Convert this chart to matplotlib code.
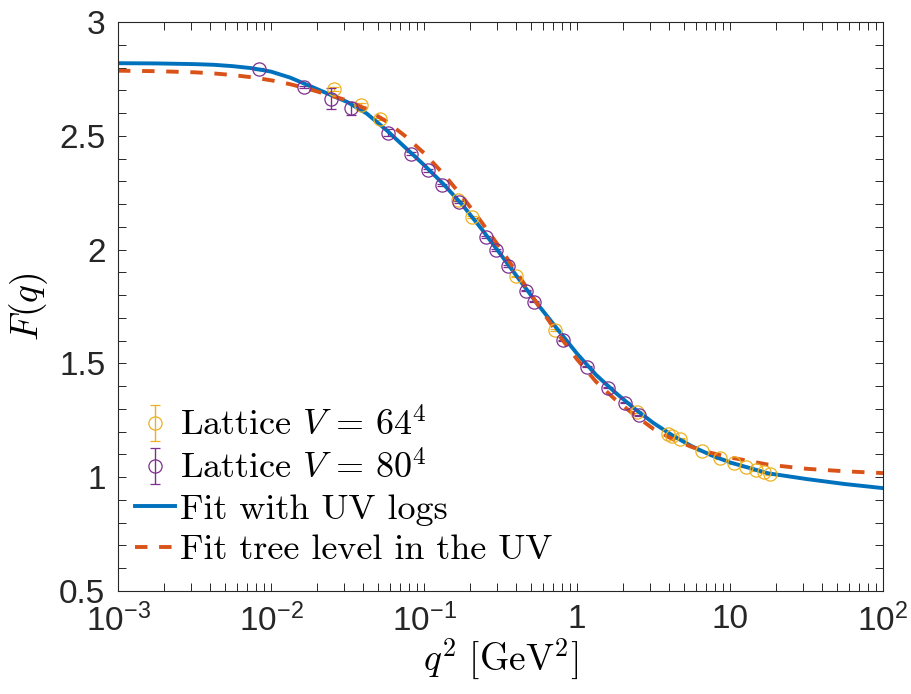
import matplotlib
matplotlib.use("Agg")
import matplotlib.pyplot as plt
from matplotlib.font_manager import FontProperties
from matplotlib.ticker import FixedLocator, FixedFormatter, LogLocator, MultipleLocator, NullFormatter

# ---------------- data ----------------
# Lattice V = 64^4
q2_64 = [0.0258, 0.039, 0.0515, 0.166, 0.2056, 0.398, 0.723, 2.45,
         3.91, 4.2, 4.7, 6.61, 8.63, 10.6, 12.8, 14.9, 16.7, 18.2]
F_64 = [2.705, 2.636, 2.573, 2.216, 2.143, 1.883, 1.646, 1.286,
        1.188, 1.182, 1.170, 1.115, 1.083, 1.061, 1.045, 1.031, 1.021, 1.013]
err_64 = [0.010, 0.006, 0.004, 0.003, 0.003, 0.003, 0.003, 0.003,
          0.003, 0.003, 0.003, 0.002, 0.002, 0.002, 0.002, 0.002, 0.002, 0.002]

# Lattice V = 80^4
q2_80 = [0.0083, 0.0164, 0.0248, 0.0332, 0.058, 0.0826, 0.107, 0.1316,
         0.1706, 0.255, 0.2966, 0.353, 0.466, 0.525, 0.815, 1.164,
         1.585, 2.05, 2.55]
F_80 = [2.794, 2.715, 2.662, 2.621, 2.514, 2.421, 2.348, 2.285,
        2.210, 2.056, 2.000, 1.927, 1.820, 1.771, 1.602, 1.485,
        1.393, 1.328, 1.272]
err_80 = [0.004, 0.003, 0.046, 0.029, 0.015, 0.006, 0.005, 0.005,
          0.004, 0.004, 0.004, 0.004, 0.003, 0.003, 0.003, 0.003,
          0.003, 0.003, 0.003]

# Fit curves
q2_fit = [0.001, 0.00178, 0.00316, 0.00422, 0.00562, 0.0075, 0.01, 0.0133,
          0.0178, 0.0316, 0.0422, 0.0562, 0.075, 0.1, 0.133, 0.178, 0.237,
          0.316, 0.422, 0.562, 0.75, 1.0, 1.33, 1.78, 2.37, 3.16, 4.22,
          5.62, 7.5, 10.0, 17.8, 31.6, 56.2, 100.0]
F_uvlogs = [2.819, 2.818, 2.815, 2.812, 2.806, 2.797, 2.782, 2.756,
            2.720, 2.648, 2.598, 2.528, 2.450, 2.372, 2.290, 2.197, 2.092,
            1.980, 1.866, 1.754, 1.648, 1.543, 1.450, 1.372, 1.302, 1.238,
            1.183, 1.136, 1.097, 1.065, 1.017, 0.992, 0.970, 0.952]
F_tree = [2.786, 2.784, 2.779, 2.774, 2.767, 2.757, 2.744, 2.727,
          2.705, 2.655, 2.616, 2.565, 2.500, 2.424, 2.335, 2.233, 2.122,
          2.005, 1.880, 1.752, 1.630, 1.518, 1.420, 1.341, 1.274, 1.212,
          1.167, 1.133, 1.107, 1.087, 1.055, 1.037, 1.026, 1.018]

labels = [r"Lattice $V\,=\,64^4$", r"Lattice $V\,=\,80^4$",
          "Fit with UV logs", "Fit tree level in the UV"]
xtick_vals = [1e-3, 1e-2, 1e-1, 1, 10, 100]
xtick_labels = [r"$10^{-3}$", r"$10^{-2}$", r"$10^{-1}$", "1", "10", r"$10^{2}$"]
ytick_vals = [0.5, 1, 1.5, 2, 2.5, 3]
ytick_labels = ["0.5", "1", "1.5", "2", "2.5", "3"]

# ---------------- style ----------------
plt.rcParams["mathtext.fontset"] = "custom"
plt.rcParams["mathtext.rm"] = "Liberation Sans"
plt.rcParams["mathtext.it"] = "Liberation Sans:italic"
plt.rcParams["mathtext.bf"] = "Liberation Sans:bold"
plt.rcParams["font.family"] = ["Liberation Sans", "DejaVu Sans"]

c_blue = "#0072BD"
c_orange = "#D95319"
c_yellow = "#EDB120"
c_purple = "#7E2F8E"
axc = "#262626"

fig = plt.figure(figsize=(9.12, 6.94), dpi=100)
ax = fig.add_axes([118 / 912, 1 - 591 / 694, 765 / 912, 569 / 694])

eb_kw = dict(fmt="o", mfc="none", ms=9.5, mew=0.9, elinewidth=1.0,
             capsize=3.3, capthick=1.0)
h64 = ax.errorbar(q2_64, F_64, yerr=err_64, color=c_yellow, label=labels[0], **eb_kw)
h80 = ax.errorbar(q2_80, F_80, yerr=err_80, color=c_purple, label=labels[1], **eb_kw)
hb, = ax.plot(q2_fit, F_uvlogs, color=c_blue, lw=2.8, label=labels[2])
ho, = ax.plot(q2_fit, F_tree, color=c_orange, lw=2.8, ls=(0, (3.2, 3.0)),
              label=labels[3])

ax.set_xscale("log")
ax.set_xlim(1e-3, 1e2)
ax.set_ylim(0.5, 3)

ax.xaxis.set_major_locator(FixedLocator(xtick_vals))
ax.xaxis.set_major_formatter(FixedFormatter(xtick_labels))
ax.xaxis.set_minor_locator(LogLocator(base=10, subs=range(2, 10), numticks=20))
ax.xaxis.set_minor_formatter(NullFormatter())
ax.yaxis.set_major_locator(FixedLocator(ytick_vals))
ax.yaxis.set_major_formatter(FixedFormatter(ytick_labels))
ax.yaxis.set_minor_locator(MultipleLocator(0.1))

ax.tick_params(which="both", direction="in", top=True, right=True,
               length=5.5, width=0.7, colors=axc, labelsize=24)
ax.tick_params(axis="x", which="major", pad=9)
ax.tick_params(axis="y", which="major", pad=9)
for s in ax.spines.values():
    s.set_color(axc)
    s.set_linewidth(0.8)

ax.set_xlabel(r"$q^2\ [\mathrm{GeV}^2]$", fontsize=27, math_fontfamily="cm",
              color="black", labelpad=-1)
ax.set_ylabel(r"$F(q)$", fontsize=27, math_fontfamily="cm", color="black",
              labelpad=7)

prop = FontProperties(family="cmr10", size=26, math_fontfamily="cm")
leg = ax.legend(handles=[h64, h80, hb, ho], labels=labels, loc="upper left",
                bbox_to_anchor=(0.0225, 0.322), frameon=False, prop=prop,
                handlelength=1.1, handletextpad=0.15, labelspacing=0.22,
                borderpad=0, borderaxespad=0)

fig.savefig("out.png", dpi=100)
